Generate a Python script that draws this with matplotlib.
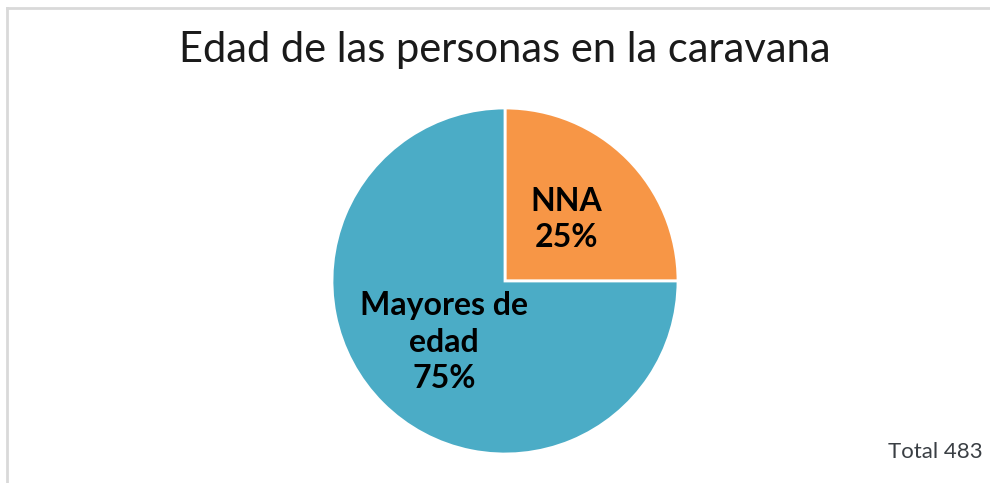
import matplotlib
matplotlib.use("Agg")
import matplotlib.pyplot as plt
from matplotlib.lines import Line2D

# ==========================================
# DATA
# ==========================================

categories = ["NNA", "Mayores de\nedad"]
percentages = [25, 75]
colors = ["#F79646", "#4BACC6"]
title = "Edad de las personas en la caravana"
total_text = "Total 483"

labels = [f"{c}\n{p}%" for c, p in zip(categories, percentages)]

plt.rcParams["font.family"] = ["Lato", "DejaVu Sans"]

# ==========================================
# FIGURE
# ==========================================

W, H = 990, 483
fig = plt.figure(figsize=(W / 100, H / 100), dpi=100)

# pie axes: centre (505, 281) px, radius 173 px
cx, cy, r = 505, 281, 173
ax = fig.add_axes([(cx - r) / W, (H - cy - r) / H, 2 * r / W, 2 * r / H])

wedges, texts = ax.pie(
    percentages,
    labels=labels,
    colors=colors,
    startangle=90,
    counterclock=False,
    labeldistance=0.5,
    wedgeprops=dict(edgecolor="white", linewidth=2),
    textprops=dict(
        fontsize=23,
        fontweight="bold",
        color="black",
        ha="center",
        va="center",
        multialignment="center",
        linespacing=1.3,
    ),
)
ax.set_xlim(-1, 1)
ax.set_ylim(-1, 1)
ax.set_aspect("equal")
ax.axis("off")

fig.text(505 / W, 1 - 50 / H, title, ha="center", va="center",
         fontsize=30, color="#1a1a1a")

fig.text(983 / W, 1 - 452 / H, total_text, ha="right", va="center",
         fontsize=16, color="#3a3f44")

# frame lines (top and left only)
fig.add_artist(Line2D([7 / W, 1], [1 - 8 / H, 1 - 8 / H],
                      transform=fig.transFigure, color="#D9D9D9", linewidth=2))
fig.add_artist(Line2D([7 / W, 7 / W], [0, 1 - 8 / H],
                      transform=fig.transFigure, color="#D9D9D9", linewidth=2))

fig.savefig("out.png", dpi=100)
plt.close()
